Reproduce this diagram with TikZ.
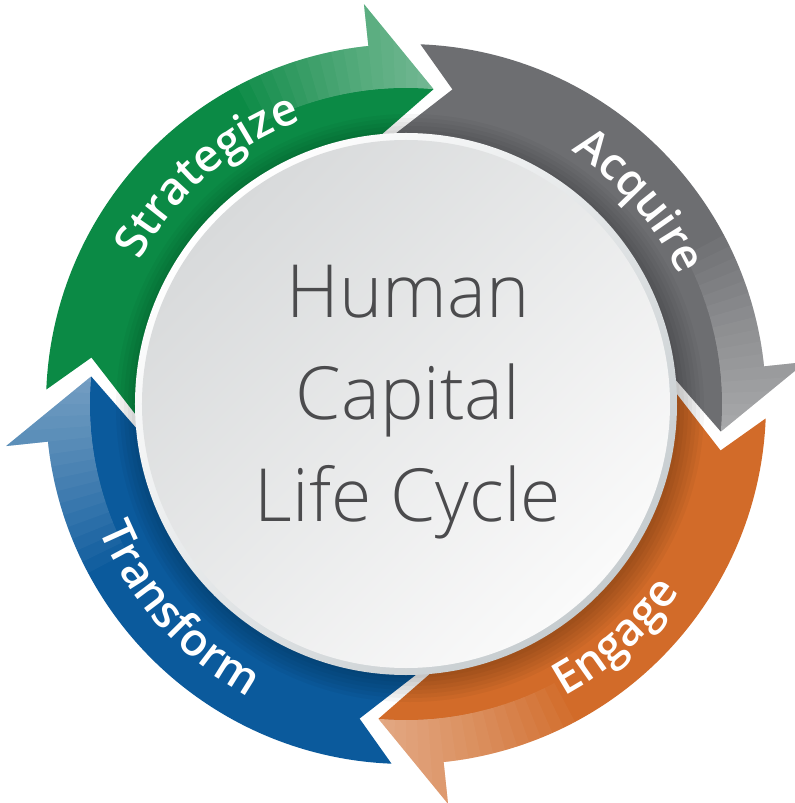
\documentclass[tikz,border=0pt]{standalone}
\usepackage{fontspec}
\setmainfont{Open Sans}
\newfontfamily\hubfont{Open Sans Light}
\newfontfamily\ringfont{Open Sans Semibold}
\usetikzlibrary{decorations.text}

\definecolor{stratgreen}{HTML}{0B8A45}
\definecolor{acqgray}{HTML}{6D6E71}
\definecolor{engorange}{HTML}{D26B29}
\definecolor{transblue}{HTML}{0B5A9C}
\definecolor{hubtext}{HTML}{4B4B4D}
\definecolor{hubdark}{HTML}{D8DADB}
\definecolor{hublight}{HTML}{FAFAFA}
\definecolor{rimgray}{HTML}{C6CCCF}

% one arrow of the ring, head at 85 degrees, tail notch at 171.6 degrees
\newcommand{\cyclearrow}{(85:316) -- (96:402) -- (96:360)
  arc[start angle=96,end angle=177.7,radius=360] -- (171.6:318) -- (189.5:250)
  arc[start angle=189.5,end angle=102.3,radius=250] -- cycle}
\newcommand{\labelfont}{\ringfont\fontsize{34}{34}\selectfont}

\begin{document}
\begin{tikzpicture}[x=0.75pt,y=0.75pt,
    ringlabel/.style={decorate,decoration={text along path,text align=center,
      text color=white,text={|\labelfont|#1}}}]
  \useasboundingbox (-406,-399) rectangle (389,404);

  % ------ the four arrows ------
  \foreach \col/\rot in {stratgreen/0,acqgray/-90,engorange/-180,transblue/-270}{
    \begin{scope}[rotate=\rot]
      \fill[\col] \cyclearrow;
      \begin{scope}
        \clip \cyclearrow;
        \foreach \a in {0,2,...,32}   % gloss towards the head
          \fill[white,opacity=.035] (118-\a:316) arc[start angle=118-\a,end angle=80,radius=316]
            -- (80:420) arc[start angle=80,end angle=118-\a,radius=420] -- cycle;
      \end{scope}
    \end{scope}
  }

  % ------ shadow of the disc ------
  \foreach \r in {270,274,...,294}
    \fill[black,opacity=.035] (4,-4) circle[radius=\r];

  % ------ central disc ------
  \shade[top color=white,bottom color=rimgray,shading angle=45] (0,0) circle[radius=271];
  \shade[top color=hubdark,bottom color=hublight,shading angle=45] (0,0) circle[radius=264];
  \node[text=hubtext,font=\hubfont\fontsize{55}{76.5}\selectfont,align=center] (hub) at (2,2)
    {Human\\Capital\\Life Cycle};

  % ------ labels on the ring ------
  \path[ringlabel=Strategize] (156:302) arc[start angle=156,end angle=106,radius=302];
  \path[ringlabel=Acquire] (66:302) arc[start angle=66,end angle=16,radius=302];
  \path[ringlabel=Engage] (-73:332) arc[start angle=-73,end angle=-23,radius=332];
  \path[ringlabel=Transform] (197:332) arc[start angle=197,end angle=247,radius=332];
\end{tikzpicture}
\end{document}
